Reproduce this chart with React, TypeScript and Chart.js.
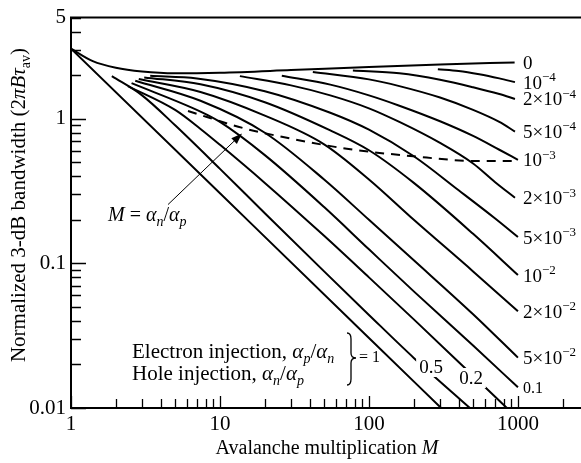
import React, { useEffect, useRef } from 'react';
import { Chart, registerables } from 'chart.js';

Chart.register(...registerables);

// ---- axis ticks ----
const xTickValues = [1, 2, 3, 4, 5, 6, 7, 8, 9, 10, 20, 30, 40, 50, 60, 70, 80, 90, 100, 200, 300, 400, 500, 600, 700, 800, 900, 1000, 2000];
const xTickLabels = [1, 10, 100, 1000];
const yTickValues = [0.01, 0.02, 0.03, 0.04, 0.05, 0.06, 0.07, 0.08, 0.09, 0.1, 0.2, 0.3, 0.4, 0.5, 0.6, 0.7, 0.8, 0.9, 1, 2, 3, 4, 5];
const yTickLabels = [0.01, 0.1, 1, 5];

// ---- curves: [avalanche multiplication M, normalized bandwidth] ----
const curveK0: [number, number][] = [[1, 3.05], [1.4, 2.5], [2, 2.25], [3, 2.12], [5, 2.06], [10, 2.08], [30, 2.17], [100, 2.28], [300, 2.37], [950, 2.45]];
const curveK1e4: [number, number][] = [[290, 2.2], [400, 2.14], [550, 2.03], [750, 1.9], [955, 1.79]];
const curveK2e4: [number, number][] = [[78, 2.15], [160, 2.06], [300, 1.86], [500, 1.65], [750, 1.48], [955, 1.37]];
const curveK5e4: [number, number][] = [[42, 2.1], [100, 1.87], [160, 1.68], [300, 1.4], [500, 1.15], [750, 0.95], [955, 0.815]];
const curveK1e3: [number, number][] = [[26, 1.98], [55, 1.72], [100, 1.45], [160, 1.23], [300, 0.96], [500, 0.76], [750, 0.61], [1000, 0.52]];
const curveK2e3: [number, number][] = [[13.6, 1.97], [30, 1.7], [55, 1.45], [100, 1.18], [160, 0.95], [300, 0.68], [500, 0.49], [700, 0.365], [955, 0.284]];
const curveK5e3: [number, number][] = [[3.4, 1.98], [7, 1.9], [20, 1.55], [55, 1.1], [100, 0.84], [200, 0.55], [400, 0.32], [700, 0.205], [1000, 0.152]];
const curveK1e2: [number, number][] = [[3.1, 1.93], [7.4, 1.73], [20, 1.3], [55, 0.83], [100, 0.605], [200, 0.36], [500, 0.16], [1000, 0.083]];
const curveK2e2: [number, number][] = [[2.85, 1.88], [7.4, 1.53], [20, 1.05], [50, 0.665], [100, 0.38], [200, 0.2], [500, 0.088], [1000, 0.0466]];
const curveK5e2: [number, number][] = [[2.7, 1.83], [7.4, 1.33], [20, 0.8], [50, 0.38], [100, 0.2], [200, 0.105], [500, 0.0445], [1000, 0.0223]];
const curveK01: [number, number][] = [[2.55, 1.76], [7.4, 1.12], [10, 0.95], [20, 0.56], [50, 0.245], [100, 0.125], [200, 0.064], [500, 0.027], [1000, 0.0139]];
const curveK02: [number, number][] = [[2.41, 1.68], [5, 1.15], [7.4, 0.85], [10, 0.66], [20, 0.36], [50, 0.155], [100, 0.08], [200, 0.041], [500, 0.0167], [843, 0.01]];
const curveK05: [number, number][] = [[1.88, 1.97], [3, 1.45], [5, 0.9], [10, 0.45], [20, 0.222], [50, 0.088], [100, 0.044], [200, 0.0222], [476, 0.01]];
const curveK1: [number, number][] = [[1, 3.05], [10, 0.305], [100, 0.0305], [305, 0.01]];
// locus M = alpha_n / alpha_p (dashed)
const dashedLocus: [number, number][] = [[6.1, 1.13], [14.7, 0.855], [26, 0.75], [71, 0.62], [198, 0.55], [530, 0.51], [930, 0.51]];

const curves = [curveK0, curveK1e4, curveK2e4, curveK5e4, curveK1e3, curveK2e3, curveK5e3, curveK1e2, curveK2e2, curveK5e2, curveK01, curveK02, curveK05, curveK1];
// right-hand labels for the first 11 curves (mantissa^exponent)
const curveLabels = ['0', '10^−4', '2×10^−4', '5×10^−4', '10^−3', '2×10^−3', '5×10^−3', '10^−2', '2×10^−2', '5×10^−2', '0.1'];

// arrow from the "M = αn/αp" label to the dashed locus (data units)
const arrowFrom: [number, number] = [4.48, 0.255];
const arrowTo: [number, number] = [14.06, 0.79];

const SERIF = '"Liberation Serif", "DejaVu Serif", "Times New Roman", serif';

type Seg = { t: string; it?: boolean; sub?: boolean; sup?: boolean };

function segFont(s: Seg, size: number) {
  const sz = s.sub || s.sup ? Math.round(size * 0.68) : size;
  return `${s.it ? 'italic ' : ''}${sz}px ${SERIF}`;
}

function richWidth(ctx: CanvasRenderingContext2D, segs: Seg[], size: number) {
  let w = 0;
  for (const s of segs) {
    ctx.font = segFont(s, size);
    w += ctx.measureText(s.t).width;
  }
  return w;
}

function drawRich(ctx: CanvasRenderingContext2D, segs: Seg[], x: number, baseline: number, size: number, align: 'left' | 'center') {
  const w = richWidth(ctx, segs, size);
  let cx = align === 'center' ? x - w / 2 : x;
  ctx.textBaseline = 'alphabetic';
  ctx.textAlign = 'left';
  for (const s of segs) {
    ctx.font = segFont(s, size);
    const dy = s.sub ? size * 0.25 : s.sup ? -size * 0.4 : 0;
    ctx.fillText(s.t, cx, baseline + dy);
    cx += ctx.measureText(s.t).width;
  }
  return w;
}

function labelSegs(label: string): Seg[] {
  const parts = label.split('^');
  if (parts.length === 1) return [{ t: parts[0] }];
  return [{ t: parts[0] }, { t: parts[1], sup: true }];
}

const annotPlugin = {
  id: 'annotPlugin',
  afterDraw(chart: any) {
    const { ctx, chartArea: a } = chart;
    const xs = chart.scales.x;
    const ys = chart.scales.y;
    const px = (v: number) => xs.getPixelForValue(v);
    const py = (v: number) => ys.getPixelForValue(v);
    ctx.save();
    ctx.fillStyle = '#000';
    ctx.strokeStyle = '#000';

    // frame (top, left, bottom)
    ctx.lineWidth = 2;
    ctx.beginPath();
    ctx.moveTo(a.right, a.top);
    ctx.lineTo(a.left, a.top);
    ctx.lineTo(a.left, a.bottom);
    ctx.lineTo(a.right, a.bottom);
    ctx.stroke();

    // inward tick marks
    ctx.lineWidth = 1.3;
    ctx.beginPath();
    for (const v of xTickValues) {
      const X = Math.round(px(v)) + 0.5;
      const len = xTickLabels.includes(v) ? 12 : 9;
      ctx.moveTo(X, a.bottom);
      ctx.lineTo(X, a.bottom - len);
    }
    for (const v of yTickValues) {
      const Y = Math.round(py(v)) + 0.5;
      const len = yTickLabels.includes(v) && v !== 5 ? 15 : 10;
      ctx.moveTo(a.left, Y);
      ctx.lineTo(a.left + len, Y);
    }
    ctx.stroke();

    // right-hand curve labels
    for (let i = 0; i < curveLabels.length; i++) {
      const c = curves[i];
      const last = c[c.length - 1];
      const size = curveLabels[i] === '0.1' ? 16 : 19;
      const X = px(1000) + 5;
      const Y = py(last[1]);
      drawRich(ctx, labelSegs(curveLabels[i]), X, Y + size * 0.34, size, 'left');
    }

    // labels on the lines (white background gaps)
    const inline = [
      { t: '0.5', cx: 431, cy: 367 },
      { t: '0.2', cx: 471, cy: 378 },
    ];
    for (const l of inline) {
      ctx.font = `19px ${SERIF}`;
      const w = ctx.measureText(l.t).width;
      ctx.fillStyle = '#fff';
      ctx.fillRect(l.cx - w / 2 - 3, l.cy - 10, w + 6, 20);
      ctx.fillStyle = '#000';
      drawRich(ctx, [{ t: l.t }], l.cx, l.cy + 19 * 0.34, 19, 'center');
    }

    // injection text block
    drawRich(ctx, [{ t: 'Electron injection, ' }, { t: 'α', it: true }, { t: 'p', it: true, sub: true }, { t: '/' }, { t: 'α', it: true }, { t: 'n', it: true, sub: true }], 132, 358, 21, 'left');
    drawRich(ctx, [{ t: 'Hole injection, ' }, { t: 'α', it: true }, { t: 'n', it: true, sub: true }, { t: '/' }, { t: 'α', it: true }, { t: 'p', it: true, sub: true }], 132, 380, 21, 'left');
    // brace
    {
      const x0 = 347, top = 333, bot = 385, mid = 358;
      ctx.lineWidth = 1.3;
      ctx.beginPath();
      ctx.moveTo(x0, top);
      ctx.quadraticCurveTo(x0 + 4, top, x0 + 4, top + 6);
      ctx.lineTo(x0 + 4, mid - 5);
      ctx.quadraticCurveTo(x0 + 4, mid, x0 + 9, mid);
      ctx.quadraticCurveTo(x0 + 4, mid, x0 + 4, mid + 5);
      ctx.lineTo(x0 + 4, bot - 6);
      ctx.quadraticCurveTo(x0 + 4, bot, x0, bot);
      ctx.stroke();
    }
    drawRich(ctx, [{ t: '= 1' }], 359, 362, 16, 'left');

    // M = αn/αp label and arrow
    drawRich(ctx, [{ t: 'M', it: true }, { t: ' = ' }, { t: 'α', it: true }, { t: 'n', it: true, sub: true }, { t: '/' }, { t: 'α', it: true }, { t: 'p', it: true, sub: true }], 108, 221, 20, 'left');
    {
      const x1 = px(arrowFrom[0]), y1 = py(arrowFrom[1]);
      const x2 = px(arrowTo[0]), y2 = py(arrowTo[1]);
      const ang = Math.atan2(y2 - y1, x2 - x1);
      ctx.lineWidth = 1;
      ctx.beginPath();
      ctx.moveTo(x1, y1);
      ctx.lineTo(x2 - 8 * Math.cos(ang), y2 - 8 * Math.sin(ang));
      ctx.stroke();
      ctx.beginPath();
      ctx.moveTo(x2, y2);
      ctx.lineTo(x2 - 11 * Math.cos(ang) + 4 * Math.sin(ang), y2 - 11 * Math.sin(ang) - 4 * Math.cos(ang));
      ctx.lineTo(x2 - 11 * Math.cos(ang) - 4 * Math.sin(ang), y2 - 11 * Math.sin(ang) + 4 * Math.cos(ang));
      ctx.closePath();
      ctx.fill();
    }

    // axis titles
    drawRich(ctx, [{ t: 'Avalanche multiplication ' }, { t: 'M', it: true }], 327, 454, 20, 'center');
    ctx.save();
    ctx.translate(25, 205);
    ctx.rotate(-Math.PI / 2);
    drawRich(ctx, [{ t: 'Normalized 3-dB bandwidth (2' }, { t: 'πBτ', it: true }, { t: 'av', sub: true }, { t: ')' }], 0, 0, 21, 'center');
    ctx.restore();

    ctx.restore();
  },
};

export default function App() {
  const ref = useRef<HTMLCanvasElement | null>(null);

  useEffect(() => {
    if (!ref.current) return;
    const datasets: any[] = curves.map((c) => ({
      data: c.map(([m, b]) => ({ x: m, y: b })),
      borderColor: '#000',
      borderWidth: 2,
      pointRadius: 0,
      fill: false,
      cubicInterpolationMode: 'monotone',
    }));
    datasets.push({
      data: dashedLocus.map(([m, b]) => ({ x: m, y: b })),
      borderColor: '#000',
      borderWidth: 2,
      borderDash: [9, 7],
      pointRadius: 0,
      fill: false,
      cubicInterpolationMode: 'monotone',
    });

    const chart = new Chart(ref.current, {
      type: 'line',
      data: { datasets },
      options: {
        animation: false,
        responsive: false,
        devicePixelRatio: 1,
        layout: { padding: { top: 12, right: 0, left: 0, bottom: 0 } },
        plugins: { legend: { display: false }, tooltip: { enabled: false }, title: { display: false } },
        scales: {
          x: {
            type: 'logarithmic',
            min: 1,
            max: 2650,
            grid: { display: false, drawTicks: false },
            border: { display: false },
            afterBuildTicks: (axis: any) => {
              axis.ticks = xTickValues.map((v) => ({ value: v }));
            },
            afterFit: (scale: any) => {
              scale.height = 55;
            },
            ticks: {
              autoSkip: false,
              maxRotation: 0,
              padding: 4,
              color: '#000',
              font: { family: SERIF, size: 21 },
              callback: (v: any) => (xTickLabels.includes(Number(v)) ? String(v) : ''),
            },
          },
          y: {
            type: 'logarithmic',
            min: 0.01,
            max: 5,
            grid: { display: false, drawTicks: false },
            border: { display: false },
            afterBuildTicks: (axis: any) => {
              axis.ticks = yTickValues.map((v) => ({ value: v }));
            },
            afterFit: (scale: any) => {
              scale.width = 71;
            },
            ticks: {
              autoSkip: false,
              padding: 5,
              color: '#000',
              font: { family: SERIF, size: 21 },
              callback: (v: any) => (yTickLabels.includes(Number(v)) ? String(v) : ''),
            },
          },
        },
      } as any,
      plugins: [annotPlugin],
    });
    return () => chart.destroy();
  }, []);

  return (
    <div style={{ position: 'fixed', left: 0, top: 0, width: 581, height: 463, background: '#fff' }}>
      <canvas ref={ref} width={581} height={463} style={{ width: 581, height: 463, display: 'block' }} />
    </div>
  );
}
